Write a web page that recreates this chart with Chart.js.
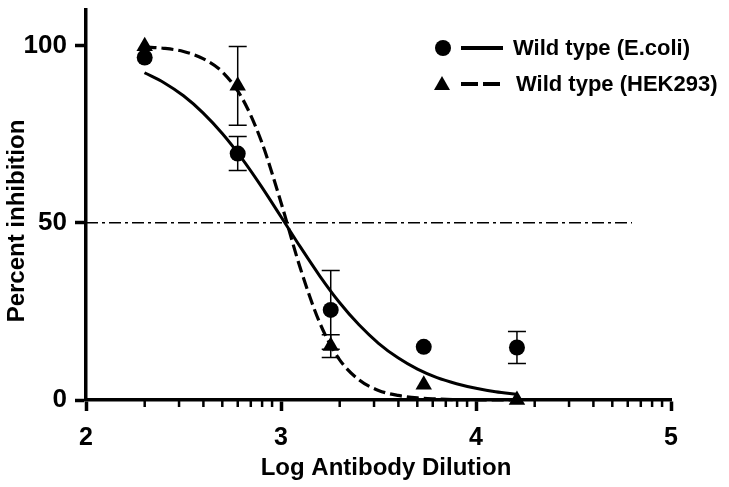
<!DOCTYPE html>
<html>
<head>
<meta charset="utf-8">
<script src="https://cdn.jsdelivr.net/npm/chart.js@4"></script>
<style>
  body { margin: 0; background: #fff; }
  #wrap { width: 729px; height: 487px; }
</style>
</head>
<body>
<div id="wrap"><canvas id="myChart" width="729" height="487"></canvas></div>
<script>
// log dilutions
const doses = [2.301, 2.778, 3.255, 3.732, 4.210];
const ecoliMean = [96.6, 69.5, 25.4, 15.0, 14.8];
const ecoliErr = [0, 4.8, 11.1, 0, 4.5];
const hekMean = [99.8, 88.6, 15.2, 4.3, 0];
const hekErr = [0, 11.1, 3.2, 0, 0];

// fitted curves
const curveX = [2.30, 2.40, 2.50, 2.60, 2.70, 2.80, 2.90, 3.00, 3.10, 3.20, 3.30, 3.40, 3.50, 3.60, 3.70, 3.80, 3.90, 4.00, 4.10, 4.21];
const ecoliFit = [92.3, 89.5, 85.8, 81.0, 75.1, 68.1, 60.2, 51.7, 43.1, 34.9, 27.5, 21.2, 16.0, 11.9, 8.7, 6.3, 4.6, 3.3, 2.3, 1.6];
const hekFit = [99.6, 99.2, 98.3, 96.3, 92.5, 85.2, 72.9, 55.7, 37.0, 21.6, 11.4, 5.7, 2.7, 1.3, 0.6, 0.3, 0.1, 0.06, 0.03, 0.01];

const refX = [2, 4.8];
const refY = [50, 50];

const xTicks = [2, 3, 4, 5];
const yTicks = [0, 50, 100];
const legendLabels = ['Wild type (E.coli)', 'Wild type (HEK293)'];
const xTitle = 'Log Antibody Dilution';
const yTitle = 'Percent inhibition';

const FONT = '"Liberation Sans", Arial, Helvetica, sans-serif';
const pts = (xs, ys) => xs.map((x, i) => ({ x: x, y: ys[i] }));

// error bars
const errorBars = {
  id: 'errorBars',
  afterDatasetsDraw(chart) {
    const { ctx, scales: { x, y } } = chart;
    ctx.save();
    ctx.strokeStyle = '#000';
    ctx.lineWidth = 1.5;
    [[ecoliMean, ecoliErr], [hekMean, hekErr]].forEach(([m, e]) => {
      doses.forEach((d, i) => {
        if (!e[i]) return;
        const px = x.getPixelForValue(d);
        const top = y.getPixelForValue(m[i] + e[i]);
        const bot = y.getPixelForValue(m[i] - e[i]);
        ctx.beginPath();
        ctx.moveTo(px, top); ctx.lineTo(px, bot);
        ctx.moveTo(px - 9, top); ctx.lineTo(px + 9, top);
        ctx.moveTo(px - 9, bot); ctx.lineTo(px + 9, bot);
        ctx.stroke();
      });
    });
    ctx.restore();
  }
};

// log minor ticks on x, titles and legend
const extras = {
  id: 'extras',
  afterDraw(chart) {
    const { ctx, chartArea, scales: { x } } = chart;
    ctx.save();
    ctx.strokeStyle = '#000';
    ctx.lineWidth = 2.5;
    for (let d = 2; d < 5; d++) {
      for (let k = 2; k <= 9; k++) {
        const px = x.getPixelForValue(d + Math.log10(k));
        ctx.beginPath();
        ctx.moveTo(px, chartArea.bottom);
        ctx.lineTo(px, chartArea.bottom + 7);
        ctx.stroke();
      }
    }

    ctx.fillStyle = '#000';
    ctx.font = 'bold 24px ' + FONT;
    ctx.textAlign = 'center';
    ctx.textBaseline = 'middle';
    ctx.fillText(xTitle, 386, 468);
    ctx.save();
    ctx.translate(17, 221);
    ctx.rotate(-Math.PI / 2);
    ctx.fillText(yTitle, 0, 0);
    ctx.restore();

    // legend
    ctx.font = 'bold 22px ' + FONT;
    ctx.textAlign = 'left';
    ctx.lineWidth = 4;
    // row 1
    ctx.beginPath();
    ctx.arc(443, 48, 8, 0, Math.PI * 2);
    ctx.fill();
    ctx.beginPath();
    ctx.moveTo(461, 48); ctx.lineTo(503, 48);
    ctx.stroke();
    ctx.fillText(legendLabels[0], 513, 49);
    // row 2
    ctx.beginPath();
    ctx.moveTo(442, 76); ctx.lineTo(450, 90); ctx.lineTo(434, 90);
    ctx.closePath();
    ctx.fill();
    ctx.setLineDash([17, 5]);
    ctx.beginPath();
    ctx.moveTo(461, 84); ctx.lineTo(503, 84);
    ctx.stroke();
    ctx.setLineDash([]);
    ctx.fillText(legendLabels[1], 516, 85);
    ctx.restore();
  }
};

new Chart(document.getElementById('myChart'), {
  type: 'scatter',
  data: {
    datasets: [
      {
        type: 'line',
        data: pts(refX, refY),
        borderColor: '#000',
        borderWidth: 1.5,
        borderDash: [12, 4, 3, 4],
        pointRadius: 0,
        clip: false
      },
      {
        type: 'line',
        data: pts(curveX, ecoliFit),
        borderColor: '#000',
        borderWidth: 3,
        pointRadius: 0,
        cubicInterpolationMode: 'monotone',
        clip: false
      },
      {
        type: 'line',
        data: pts(curveX, hekFit),
        borderColor: '#000',
        borderWidth: 3.2,
        borderDash: [12, 5],
        pointRadius: 0,
        cubicInterpolationMode: 'monotone',
        clip: false
      },
      {
        data: pts(doses, ecoliMean),
        pointStyle: 'circle',
        pointRadius: 8,
        backgroundColor: '#000',
        borderColor: '#000',
        borderWidth: 0,
        clip: false
      },
      {
        data: pts(doses, hekMean),
        pointStyle: 'triangle',
        pointRadius: 9.5,
        backgroundColor: '#000',
        borderColor: '#000',
        borderWidth: 0,
        clip: false
      }
    ]
  },
  options: {
    responsive: false,
    animation: false,
    layout: { padding: { top: 10, right: 58, left: 0, bottom: 0 } },
    plugins: { legend: { display: false }, tooltip: { enabled: false } },
    scales: {
      x: {
        type: 'linear',
        min: 2,
        max: 5,
        afterBuildTicks: (s) => { s.ticks = xTicks.map(v => ({ value: v })); },
        afterFit: (s) => { s.height = 87; s.paddingLeft = 0; s.paddingRight = 0; },
        ticks: { color: '#000', padding: 12, font: { family: FONT, size: 25, weight: 'bold' } },
        grid: { drawOnChartArea: false, drawTicks: true, tickLength: 11, tickWidth: 3.5, tickColor: '#000' },
        border: { color: '#000', width: 3.5 }
      },
      y: {
        min: 0,
        max: 110,
        afterBuildTicks: (s) => { s.ticks = yTicks.map(v => ({ value: v })); },
        afterFit: (s) => { s.width = 86; s.paddingTop = 0; s.paddingBottom = 0; },
        ticks: { color: '#000', padding: 8, font: { family: FONT, size: 26, weight: 'bold' } },
        grid: { drawOnChartArea: false, drawTicks: true, tickLength: 11, tickWidth: 3.5, tickColor: '#000' },
        border: { color: '#000', width: 3.5 }
      }
    }
  },
  plugins: [errorBars, extras]
});
</script>
</body>
</html>
